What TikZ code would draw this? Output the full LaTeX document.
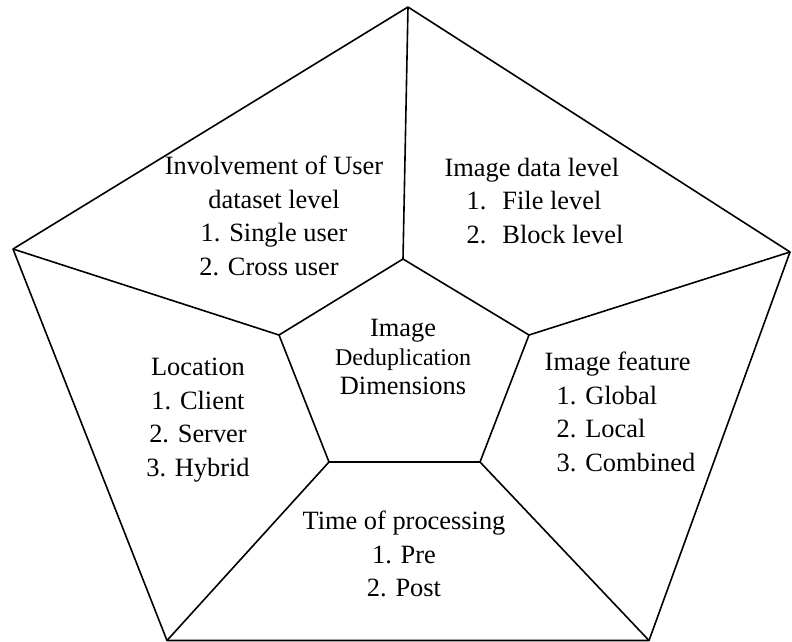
\documentclass[tikz,border=0pt]{standalone}
\usepackage{fontspec}
\setmainfont{Liberation Serif}
\usetikzlibrary{calc}

\begin{document}
\begin{tikzpicture}[x=1pt, y=-1pt, line width=1.6pt, line join=round,
  dimtext/.style={font=\fontsize{26.4}{33.5}\selectfont, align=center, inner sep=0pt}]
\useasboundingbox (0,0) rectangle (792,642);

% outer pentagon
\coordinate (ot) at (408,7);
\coordinate (or) at (790,252);
\coordinate (obr) at (649,640.5);
\coordinate (obl) at (167,640.5);
\coordinate (ol) at (13,249);

% inner pentagon
\coordinate (it) at (403,259);
\coordinate (ir) at (529,335);
\coordinate (ibr) at (480,462);
\coordinate (ibl) at (329,462);
\coordinate (il) at (279,335);

\draw (ot) -- (or) -- (obr) -- (obl) -- (ol) -- cycle;
\draw (it) -- (ir) -- (ibr) -- (ibl) -- (il) -- cycle;

\draw (ot) -- (it);
\draw (or) -- (ir);
\draw (obr) -- (ibr);
\draw (obl) -- (ibl);
\draw (ol) -- (il);

\node[dimtext] (user) at (274,216) {Involvement of User\\dataset level\\1. Single user\\\hspace*{-10pt}2. Cross user};
\node[dimtext, align=left] (data) at (534,201) {Image data level\\\hspace*{22pt}1.\hspace{16pt}File level\\\hspace*{22pt}2.\hspace{16pt}Block level};
\node[dimtext, font=\fontsize{26.4}{29}\selectfont] (centre) at (403,357) {Image\\{\fontsize{24}{29}\selectfont Deduplication}\\Dimensions};
\node[dimtext] (loc) at (198,420) {Location\\1. Client\\2. Server\\3. Hybrid};
\node[dimtext, align=left] (feat) at (620,412) {Image feature\\\hspace*{12pt}1. Global\\\hspace*{12pt}2. Local\\\hspace*{12pt}3. Combined};
\node[dimtext] (time) at (404,554) {Time of processing\\1. Pre\\2. Post};
\end{tikzpicture}
\end{document}
